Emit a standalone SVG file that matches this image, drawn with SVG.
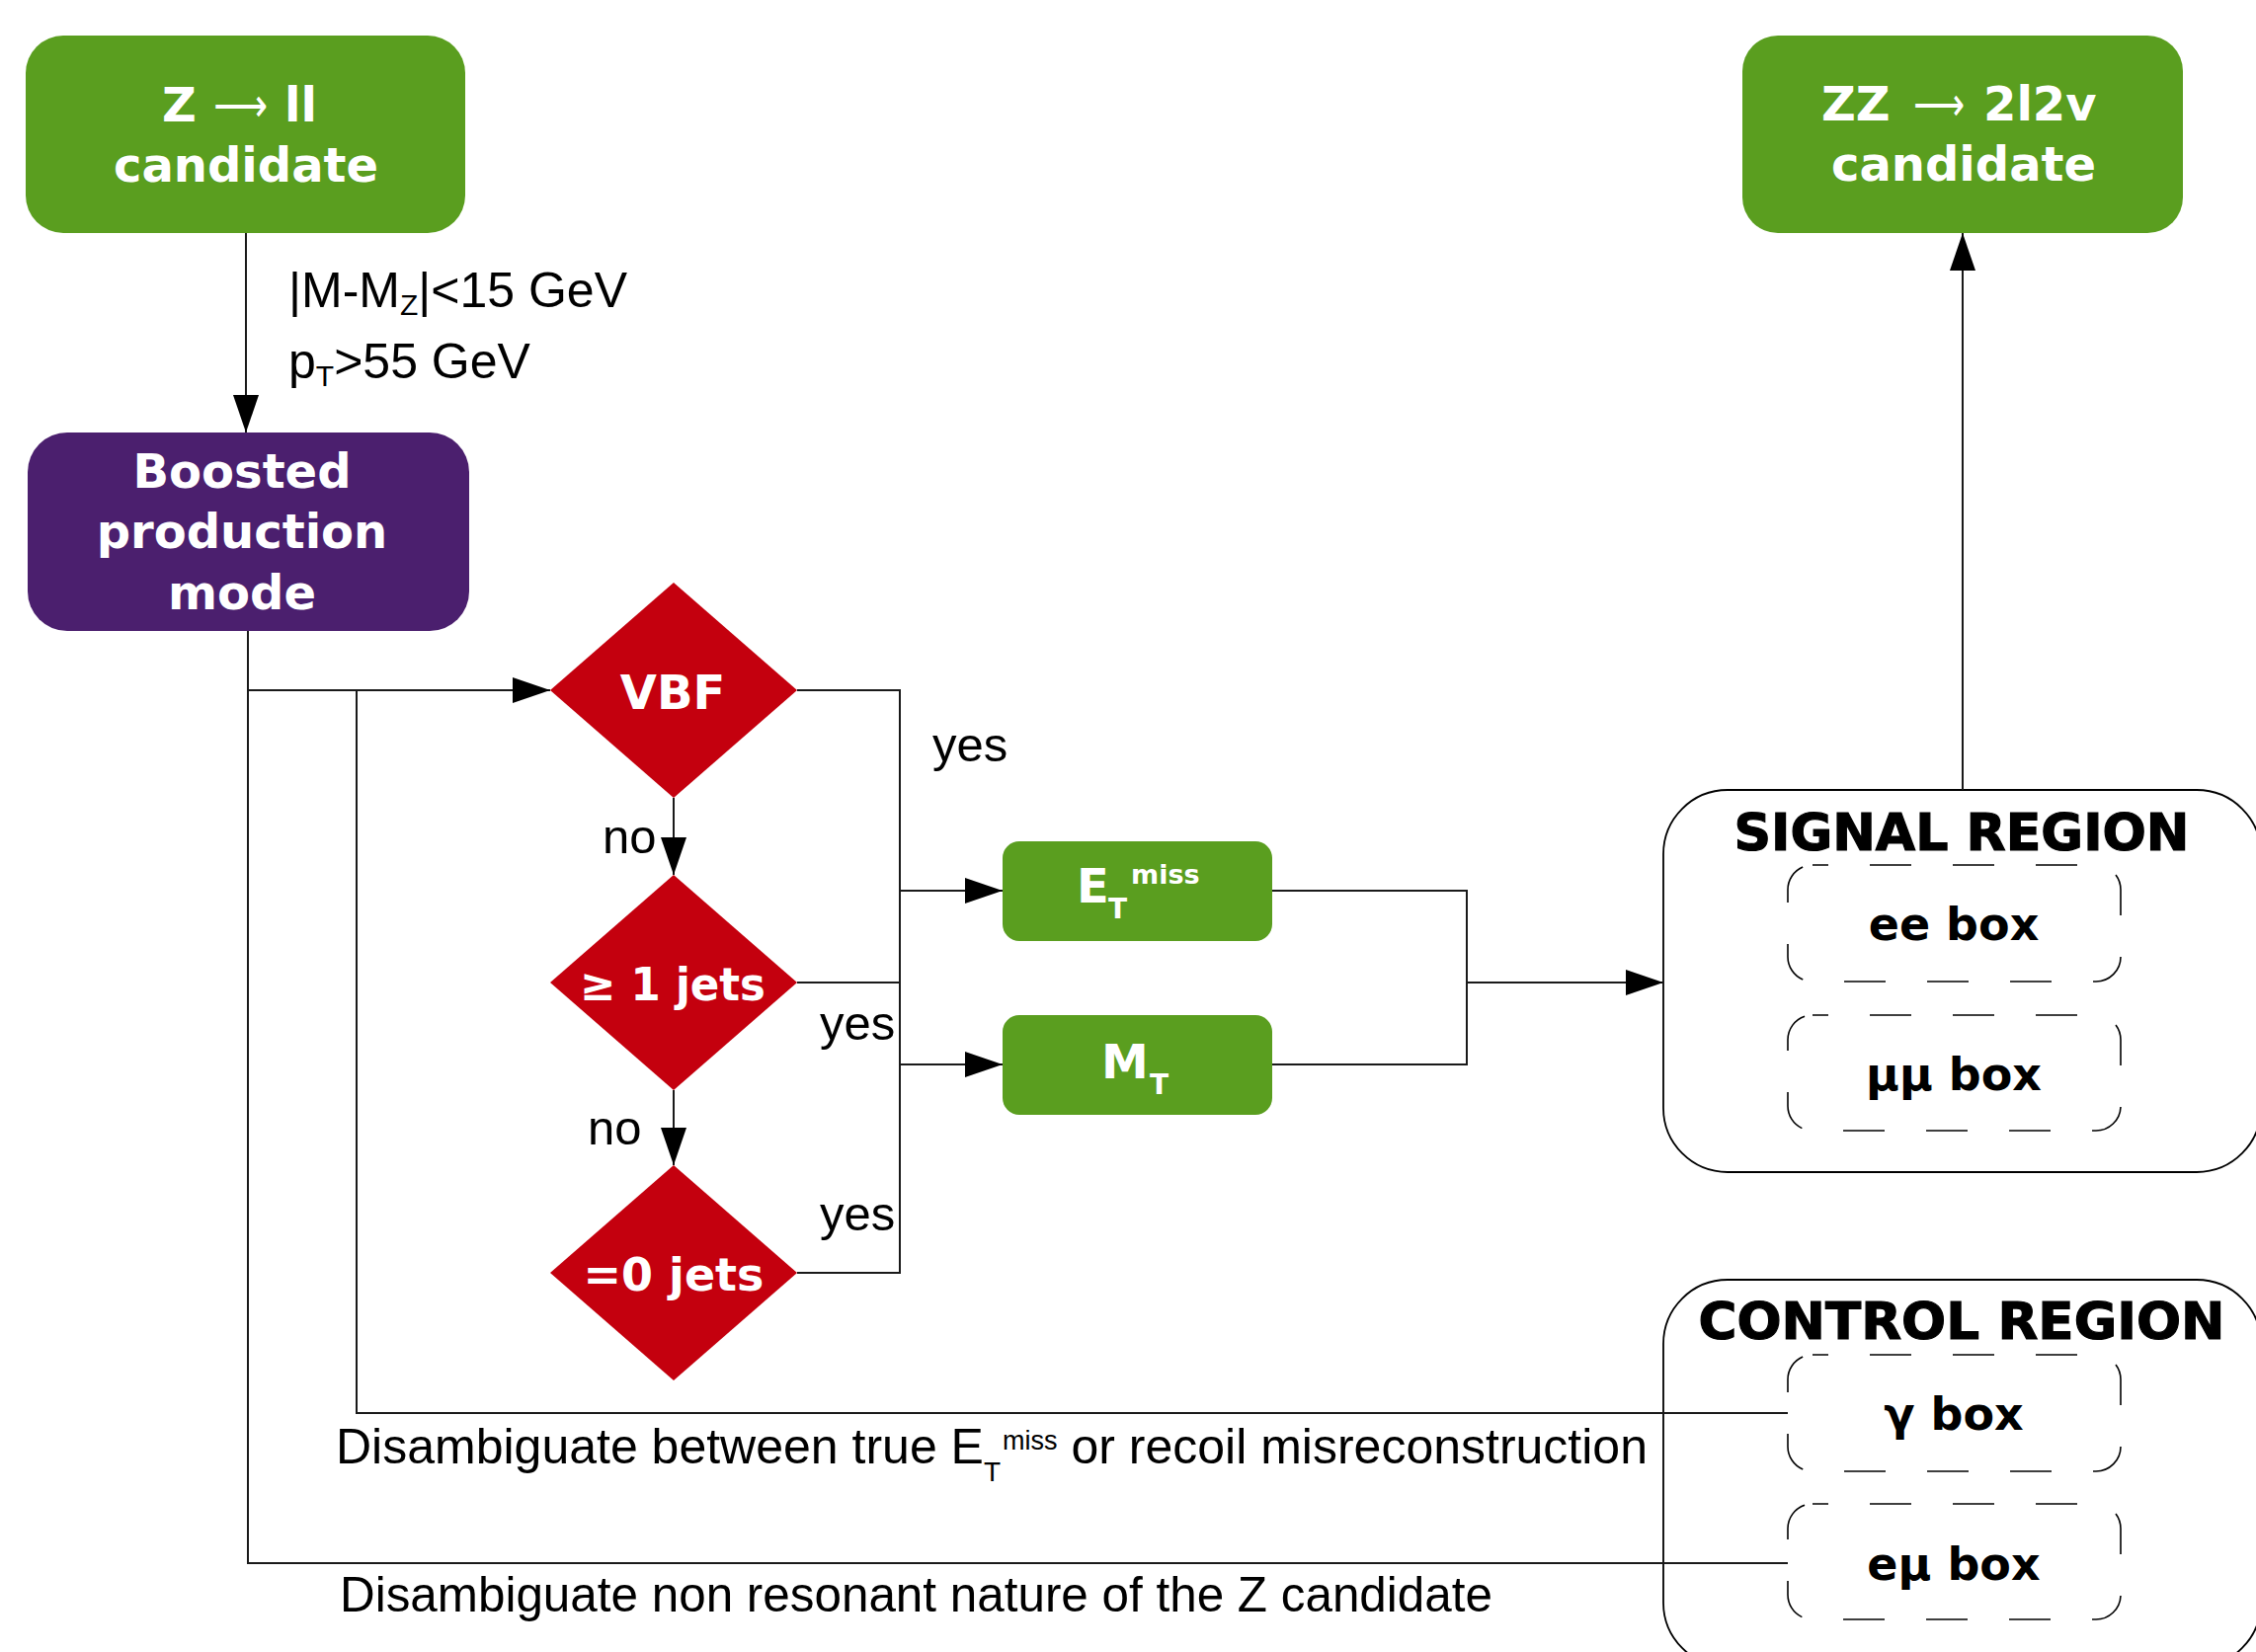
<svg xmlns="http://www.w3.org/2000/svg" width="2284" height="1673" viewBox="0 0 2284 1673">
<defs>
<marker id="ah" markerUnits="userSpaceOnUse" markerWidth="38" markerHeight="26" viewBox="0 0 38 26" refX="38" refY="13" orient="auto"><path d="M0,0 L38,13 L0,26 Z" fill="#000"/></marker>
</defs>
<style>
.lbl{font-family:"Liberation Sans",Arial,sans-serif;fill:#000}
.bt{font-family:"DejaVu Sans",sans-serif;font-weight:bold;fill:#fff}
.arr{font-family:"DejaVu Sans",sans-serif;font-weight:normal;fill:#fff}
.green{fill:#5A9E1F}
.purple{fill:#4B1F6E}
.dia{fill:#C4000E}
.conn{fill:none;stroke:#1a1a1a;stroke-width:2}
.region{fill:#fff;stroke:#000;stroke-width:1.8}
.dash{fill:none;stroke:#000;stroke-width:1.6;stroke-dasharray:42 42;stroke-dashoffset:26}
.rt{font-family:"DejaVu Sans",sans-serif;font-weight:bold;fill:#000}
.ttl{font-family:"DejaVu Sans",sans-serif;font-weight:bold;fill:#000;stroke:#000;stroke-width:1.2}
</style>
<rect width="2284" height="1673" fill="#fff"/>

<g id="signal-region">
<rect class="region" x="1684" y="800" width="605" height="387" rx="65"/>
<text class="ttl" font-size="52" x="1986" y="861" text-anchor="middle" textLength="461" lengthAdjust="spacingAndGlyphs">SIGNAL REGION</text>
</g>
<g id="control-region">
<rect class="region" x="1684" y="1296" width="605" height="392" rx="65"/>
<text class="ttl" font-size="52" x="1986" y="1356" text-anchor="middle" textLength="533" lengthAdjust="spacingAndGlyphs">CONTROL REGION</text>
</g>

<g id="connectors">
<path class="conn" d="M249,236 V438" marker-end="url(#ah)"/>
<path class="conn" d="M251,639 V699 H557" marker-end="url(#ah)"/>
<path class="conn" d="M251,699 V1583 H1810"/>
<path class="conn" d="M361,699 V1431 H1810"/>
<path class="conn" d="M682,808 V886" marker-end="url(#ah)"/>
<path class="conn" d="M682,1104 V1180" marker-end="url(#ah)"/>
<path class="conn" d="M807,699 H911 V1289 H807"/>
<path class="conn" d="M807,995 H911"/>
<path class="conn" d="M911,902 H1015" marker-end="url(#ah)"/>
<path class="conn" d="M911,1078 H1015" marker-end="url(#ah)"/>
<path class="conn" d="M1288,902 H1485 V1078 H1288"/>
<path class="conn" d="M1485,995 H1684" marker-end="url(#ah)"/>
<path class="conn" d="M1987,800 V236" marker-end="url(#ah)"/>
</g>

<g id="z-ll-candidate">
<rect class="green" x="26" y="36" width="445" height="200" rx="38"/>
<text class="bt" font-size="48" x="164" y="123">Z</text>
<text class="arr" font-size="48" x="216" y="123" textLength="55" lengthAdjust="spacingAndGlyphs">⟶</text>
<text class="bt" font-size="48" x="288" y="123">ll</text>
<text class="bt" font-size="48" x="249" y="184" text-anchor="middle">candidate</text>
</g>

<g id="zz-candidate">
<rect class="green" x="1764" y="36" width="446" height="200" rx="36"/>
<text class="bt" font-size="48" x="1844" y="122">ZZ</text>
<text class="arr" font-size="48" x="1937" y="122" textLength="52" lengthAdjust="spacingAndGlyphs">⟶</text>
<text class="bt" font-size="48" x="2008" y="122">2l2v</text>
<text class="bt" font-size="48" x="1988" y="183" text-anchor="middle">candidate</text>
</g>

<g id="boosted">
<rect class="purple" x="28" y="438" width="447" height="201" rx="40"/>
<text class="bt" font-size="48" x="245" y="494" text-anchor="middle">Boosted</text>
<text class="bt" font-size="48" x="245" y="555" text-anchor="middle">production</text>
<text class="bt" font-size="48" x="245" y="617" text-anchor="middle">mode</text>
</g>

<g id="vbf">
<polygon class="dia" points="557,699 682,590 807,699 682,808"/>
<text class="bt" font-size="48" x="681" y="718" text-anchor="middle">VBF</text>
</g>
<g id="ge1jets">
<polygon class="dia" points="557,995 682,886 807,995 682,1104"/>
<text class="bt" font-size="46" x="681" y="1013" text-anchor="middle" textLength="188" lengthAdjust="spacingAndGlyphs">≥ 1 jets</text>
</g>
<g id="eq0jets">
<polygon class="dia" points="557,1289 682,1180 807,1289 682,1398"/>
<text class="bt" font-size="46" x="682" y="1307" text-anchor="middle">=0 jets</text>
</g>

<g id="etmiss">
<rect class="green" x="1015" y="852" width="273" height="101" rx="17"/>
<text class="bt" font-size="48" x="1090" y="914">E</text>
<text class="bt" font-size="28" x="1122" y="930">T</text>
<text class="bt" font-size="27" x="1145" y="895">miss</text>
</g>
<g id="mt">
<rect class="green" x="1015" y="1028" width="273" height="101" rx="17"/>
<text class="bt" font-size="48" x="1115" y="1092">M</text>
<text class="bt" font-size="28" x="1164" y="1108">T</text>
</g>

<g id="ee-box">
<rect class="dash" x="1810" y="876" width="337" height="118" rx="25"/>
<text class="rt" font-size="46" x="1978" y="952" text-anchor="middle">ee box</text>
</g>
<g id="mumu-box">
<rect class="dash" x="1810" y="1028" width="337" height="117" rx="25"/>
<text class="rt" font-size="46" x="1978" y="1104" text-anchor="middle">μμ box</text>
</g>
<g id="gamma-box">
<rect class="dash" x="1810" y="1372" width="337" height="118" rx="25"/>
<text class="rt" font-size="46" x="1978" y="1448" text-anchor="middle">γ box</text>
</g>
<g id="emu-box">
<rect class="dash" x="1810" y="1523" width="337" height="117" rx="25"/>
<text class="rt" font-size="46" x="1978" y="1600" text-anchor="middle">eμ box</text>
</g>

<g id="labels">
<text class="lbl" font-size="50" x="292" y="311">|M-M<tspan font-size="30" dy="8">Z</tspan><tspan dy="-8">|&lt;15 GeV</tspan></text>
<text class="lbl" font-size="50" x="292" y="383">p<tspan font-size="30" dy="8">T</tspan><tspan dy="-8">&gt;55 GeV</tspan></text>
<text class="lbl" font-size="49" x="944" y="771">yes</text>
<text class="lbl" font-size="49" x="830" y="1053">yes</text>
<text class="lbl" font-size="49" x="830" y="1246">yes</text>
<text class="lbl" font-size="49" x="610" y="864">no</text>
<text class="lbl" font-size="49" x="595" y="1159">no</text>
<text class="lbl" font-size="50" x="340" y="1482">Disambiguate between true E<tspan font-size="28" dy="18">T</tspan><tspan font-size="27" dy="-32" dx="2">miss</tspan><tspan dy="14"> or recoil misreconstruction</tspan></text>
<text class="lbl" font-size="49.4" x="344" y="1632">Disambiguate non resonant nature of the Z candidate</text>
</g>
</svg>
